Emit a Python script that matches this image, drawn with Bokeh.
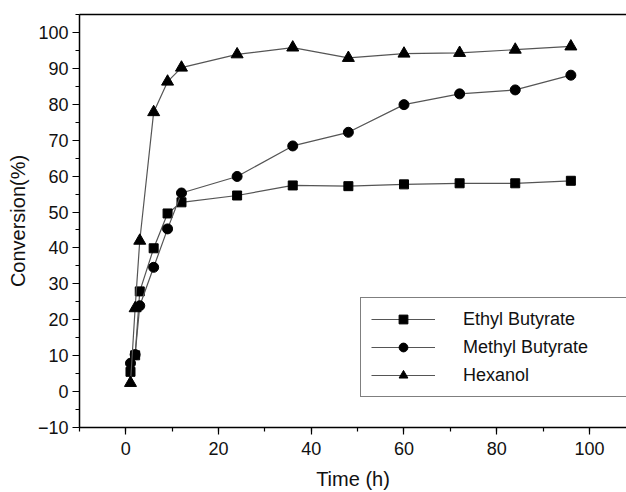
from bokeh.plotting import figure
from bokeh.models import Range1d, SingleIntervalTicker, FixedTicker, LinearAxis, Legend, LegendItem
from bokeh.embed import file_html
from bokeh.resources import INLINE

time_h = [1, 2, 3, 6, 9, 12, 24, 36, 48, 60, 72, 84, 96]
ethyl_butyrate = [5.5, 10.1, 27.9, 39.9, 49.6, 52.7, 54.6, 57.4, 57.2, 57.7, 58.0, 58.0, 58.7]
methyl_butyrate = [7.9, 10.3, 23.9, 34.6, 45.3, 55.3, 59.9, 68.4, 72.2, 79.9, 82.9, 84.0, 88.1]
hexanol = [2.4, 23.2, 42.0, 77.8, 86.3, 90.2, 93.9, 95.8, 92.9, 94.1, 94.3, 95.2, 96.1]

series_names = ["Ethyl Butyrate", "Methyl Butyrate", "Hexanol"]
x_label = "Time (h)"
y_label = "Conversion(%)"

FONT = "Liberation Sans"

p = figure(width=626, height=492, output_backend="svg", toolbar_location=None,
           x_range=Range1d(-10, 108), y_range=Range1d(-10, 105),
           min_border_left=79, min_border_right=0, min_border_top=14, min_border_bottom=62)
p.outline_line_color = None
p.grid.visible = False
p.background_fill_color = "white"
p.border_fill_color = "white"

for ax in (p.xaxis[0], p.yaxis[0]):
    ax.axis_line_color = "black"
    ax.axis_line_width = 1.5
    ax.major_tick_line_color = "black"
    ax.minor_tick_line_color = "black"
    ax.major_tick_line_width = 1.2
    ax.minor_tick_line_width = 1.2
    ax.major_tick_out = 7
    ax.major_tick_in = 0
    ax.minor_tick_out = 4
    ax.minor_tick_in = 0
    ax.major_label_text_font = FONT
    ax.major_label_text_font_size = "18px"
    ax.major_label_text_color = "#111111"
    ax.axis_label_text_font = FONT
    ax.axis_label_text_font_size = "20px"
    ax.axis_label_text_font_style = "normal"
    ax.axis_label_text_color = "#111111"

p.xaxis[0].ticker = SingleIntervalTicker(interval=20, num_minor_ticks=2)
p.yaxis[0].ticker = SingleIntervalTicker(interval=10, num_minor_ticks=2)
p.xaxis[0].axis_label = x_label
p.yaxis[0].axis_label = y_label
p.xaxis[0].major_label_standoff = 7
p.yaxis[0].major_label_standoff = 4
p.xaxis[0].axis_label_standoff = 10
p.yaxis[0].axis_label_standoff = 6

top = LinearAxis(ticker=FixedTicker(ticks=[]), axis_line_color="black", axis_line_width=1.5,
                 major_tick_line_color=None, minor_tick_line_color=None, axis_label=None)
p.add_layout(top, "above")

line_color = "#555555"
markers = ["square", "circle", "triangle"]
sizes = [9, 10, 12]
items = []
for name, vals, mk, sz in zip(series_names, [ethyl_butyrate, methyl_butyrate, hexanol], markers, sizes):
    l = p.line(time_h, vals, line_color=line_color, line_width=1.2)
    s = p.scatter(time_h, vals, marker=mk, size=sz, fill_color="black", line_color="black")
    items.append(LegendItem(label=name, renderers=[l, s]))

legend = Legend(items=items, location=(281, 30))
legend.border_line_color = "black"
legend.border_line_width = 1.2
legend.background_fill_color = "white"
legend.background_fill_alpha = 1
legend.padding = 10
legend.margin = 0
legend.spacing = 6
legend.glyph_width = 64
legend.glyph_height = 22
legend.label_height = 22
legend.label_width = 153
legend.label_standoff = 28
legend.label_text_font = FONT
legend.label_text_font_size = "18px"
legend.label_text_color = "#111111"
p.add_layout(legend, "center")

open("out.html", "w").write(file_html(p, INLINE))
